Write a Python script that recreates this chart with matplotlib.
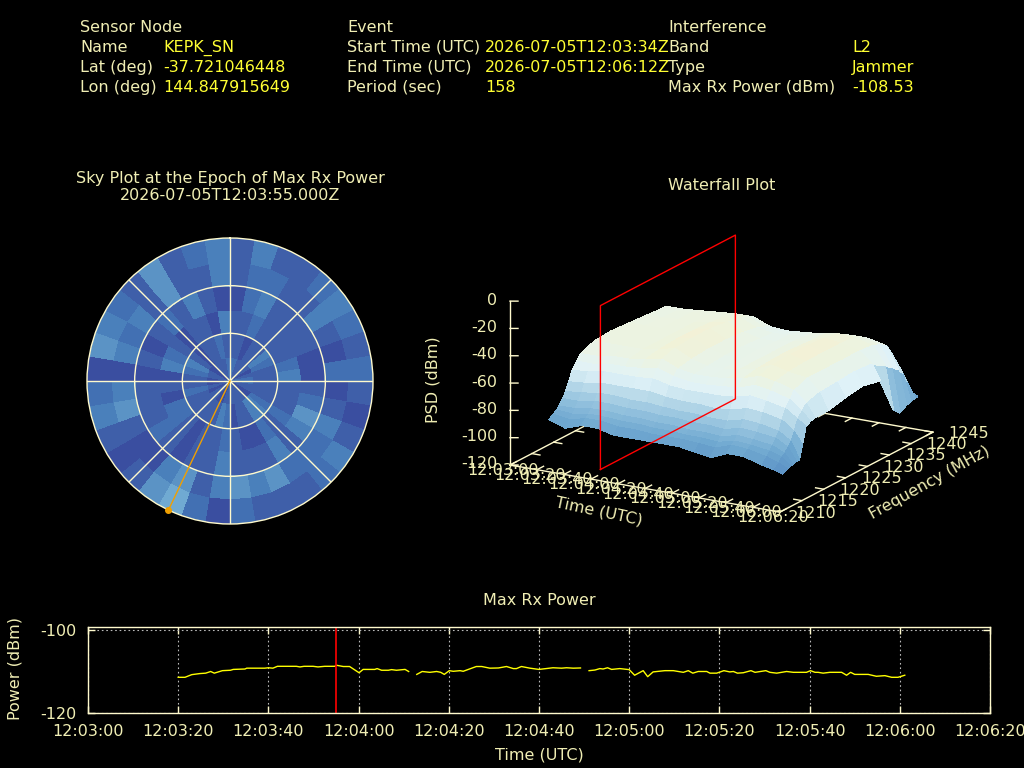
import numpy as np
import matplotlib
matplotlib.use("Agg")
import matplotlib.pyplot as plt
from matplotlib.colors import LinearSegmentedColormap, ListedColormap, Normalize
from mpl_toolkits.mplot3d import proj3d

# ---------- data ----------
power_t_1 = [20,21.5,23,24.8,26.1,27.2,28,29.8,31.6,32.2,34.8,35.2,39.2,40,41,42,44,46.2,47,47.9,49.9,51,52.5,54.7,55.1,56.6,58,60.1,61,63.6,64.1,65.1,66.6,67.3,68.4,70.3,71.1]
power_v_1 = [-111.4,-111.4,-110.76,-110.5,-110.4,-110.0,-110.4,-109.8,-109.7,-109.5,-109.4,-109.2,-109.2,-109.1,-109.2,-108.75,-108.75,-108.75,-108.9,-108.75,-108.75,-108.9,-108.75,-108.75,-108.5,-108.8,-108.8,-110.3,-109.5,-109.5,-109.3,-109.7,-109.7,-109.55,-109.7,-109.5,-110.0]
power_t_2 = [72.9,74.1,75.8,77.3,78.2,79,80.1,81,82.5,83.2,86.1,87.3,89.1,91,92.8,94.3,95,96.1,98,100,103.1,105,106.1,107.6,109.2]
power_v_2 = [-110.7,-110.0,-110.2,-110.0,-110.2,-110.7,-109.8,-109.95,-109.8,-109.95,-108.8,-108.8,-109.2,-109.15,-108.8,-109.3,-109.3,-108.8,-109.2,-109.5,-109.1,-109.2,-109.1,-109.2,-109.15]
power_t_3 = [111.1,112.4,113.5,114.2,115.2,116.1,117.9,120,121.2,123.1,124.1,125.3,127.9,129.8,132,133.1,134.1,135.3,137.2,137.9,139.4,141,142.3,143.1,144,145.3,147,147.9,150.3,151.2,152.7,154.9,156.4,159.3,160.2,161.2,161.9,163,164.5,167.1,168.2,169.1,170,173,174.8,176.7,178.2,179.6,181.1]
power_v_3 = [-109.8,-109.65,-109.3,-109.4,-109.1,-109.5,-109.3,-109.55,-110.9,-109.8,-111.25,-110.1,-109.8,-109.8,-110.2,-109.8,-110.4,-110.0,-110.0,-110.4,-110.4,-109.8,-110.1,-110.0,-110.4,-110.3,-109.8,-110.2,-109.8,-110.2,-110.4,-110.0,-110.2,-110.2,-109.8,-110.2,-110.2,-110.4,-110.2,-110.2,-110.9,-110.2,-110.7,-110.7,-111.15,-111.0,-111.4,-111.4,-110.9]
marker_t = 55
time_ticks = list(range(0, 201, 20))
time_labels = ["12:03:00","12:03:20","12:03:40","12:04:00","12:04:20","12:04:40","12:05:00","12:05:20","12:05:40","12:06:00","12:06:20"]
freq_ticks = [1210,1215,1220,1225,1230,1235,1240,1245]
psd_ticks = [0,-20,-40,-60,-80,-100,-120]

wf_t = [17,29,41,53,65,77,89,101,113,125,137,149,161,175,184,190]
wf_f = [1213.7,1214.7,1215.4,1216,1216.8,1217.5,1218.2,1219,1220,1221,1224,1228,1232,1236,1239,1240.5,1242,1243,1244,1244.6]
wf_z = [
 [-90,-94,-90,-90,-93,-93,-93,-93,-93,-95,-97,-92,-92,-96,-98,-100],
 [-88,-90,-87,-87,-89,-89,-90,-90,-90,-91,-92,-88,-89,-92,-95,-98],
 [-86,-87,-85,-85,-86,-86,-87,-87,-88,-88,-89,-86,-87,-89,-92,-97],
 [-84,-84,-82,-82,-83,-83,-84,-84,-85,-85,-86,-83,-84,-86,-90,-97],
 [-80,-80,-78,-78,-79,-79,-80,-80,-81,-81,-82,-79,-80,-82,-87,-96],
 [-76,-75,-73,-73,-74,-74,-75,-76,-76,-77,-77,-74,-75,-78,-84,-96],
 [-70,-69,-67,-67,-67,-67,-69,-70,-70,-71,-70,-67,-68,-71,-78,-86],
 [-63,-62,-60,-60,-60,-59,-62,-63,-63,-63,-62,-59,-61,-64,-70,-74],
 [-58,-58,-56,-56,-55,-53,-57,-59,-59,-58,-57,-53,-55,-59,-66,-72],
 [-54,-54,-52,-52,-50,-48,-53,-55,-55,-54,-52,-48,-50,-54,-62,-71],
 [-50,-50,-50,-50,-48,-45,-51,-54,-54,-52,-50,-45,-48,-50,-59,-71],
 [-49,-49,-50,-50,-47,-44,-50,-53,-54,-52,-49,-44,-47,-50,-58,-68],
 [-50,-50,-50,-50,-47,-44,-50,-53,-53,-52,-49,-44,-47,-50,-57,-66],
 [-51,-51,-50,-50,-48,-46,-51,-54,-54,-52,-50,-45,-47,-50,-58,-69],
 [-52,-51,-50,-50,-49,-48,-53,-55,-54,-53,-50,-47,-48,-51,-64,-95],
 [-52,-52,-51,-50,-49,-49,-55,-56,-55,-53,-51,-50,-50,-53,-68,-100],
 [-56,-55,-54,-53,-52,-52,-57,-58,-57,-56,-54,-53,-53,-56,-72,-97],
 [-62,-61,-60,-59,-58,-58,-62,-63,-62,-61,-60,-59,-59,-62,-76,-96],
 [-75,-74,-73,-72,-72,-72,-74,-75,-74,-74,-73,-72,-72,-75,-84,-95],
 [-90,-88,-87,-87,-87,-87,-88,-89,-89,-88,-87,-87,-87,-88,-92,-95],
]
plane_f = [1213.7, 1244.6]

sky_az_deg = list(range(0, 361, 10))
sky_zen_deg = [0, 15, 30, 45, 60, 75, 90]
sky_ring1 = [2,2,1,1,1,1,0,1,2,2,1,1,0,0,1,1,1,1,1,1,0,0,1,1,0,1,0,0,1,1,0,0,1,1,1,2]
sky_ring2 = [1,1,0,1,1,3,2,1,1,1,1,1,2,3,3,1,1,0,2,3,1,1,1,1,1,2,1,1,2,3,1,0,1,1,2,1]
sky_ring3 = [1,1,2,1,1,1,1,2,3,1,1,1,2,1,2,0,0,1,2,1,1,0,1,2,2,0,1,0,3,2,1,0,1,1,0,3]
sky_ring4 = [0,2,3,1,1,1,1,0,0,1,2,4,3,1,3,1,1,1,3,1,1,0,1,2,1,1,1,0,1,0,1,2,1,3,1,0]
sky_ring5 = [1,2,2,1,1,3,1,0,2,0,1,3,2,2,2,4,3,4,3,1,4,3,0,0,1,4,3,0,3,2,3,1,4,1,1,3]
sky_ring6 = [1,3,1,1,2,3,2,1,2,1,0,1,3,2,1,1,1,2,0,2,5,4,1,0,1,3,2,0,4,3,2,1,4,1,2,3]
sky_level_colors = ["#3a4ea0","#3f5fa9","#4270b3","#4a80bb","#5b93c5","#70aad2"]
max_az_deg = 205.5

header = [
 (80, 32, "Sensor Node", 0), (80, 52, "Name", 0), (163, 52, "KEPK_SN", 1),
 (80, 72, "Lat (deg)", 0), (163, 72, "-37.721046448", 1),
 (80, 92, "Lon (deg)", 0), (163, 92, "144.847915649", 1),
 (347, 32, "Event", 0), (347, 52, "Start Time (UTC)", 0), (485, 52, "2026-07-05T12:03:34Z", 1),
 (347, 72, "End Time (UTC)", 0), (485, 72, "2026-07-05T12:06:12Z", 1),
 (347, 92, "Period (sec)", 0), (485, 92, "158", 1),
 (668, 32, "Interference", 0), (668, 52, "Band", 0), (852, 52, "L2", 1),
 (668, 72, "Type", 0), (852, 72, "Jammer", 1),
 (668, 92, "Max Rx Power (dBm)", 0), (852, 92, "-108.53", 1),
]

# ---------- style ----------
FG = "#f0eeb4"
LINE = "#fffacd"
VAL = "#ffff33"
FS = 11.5
W, H = 1024, 768
plt.rcParams["font.family"] = "DejaVu Sans"
plt.rcParams["axes.unicode_minus"] = False
fig = plt.figure(figsize=(W/100, H/100), dpi=100, facecolor="black")

def ftext(x, y, s, color=FG, **kw):
    kw.setdefault("va", "baseline")
    kw.setdefault("fontsize", FS)
    fig.text(x/W, 1-y/H, s, color=color, **kw)

for x, y, s, kind in header:
    ftext(x, y, s, color=VAL if kind else FG, ha="left")
ftext(230, 183, "Sky Plot at the Epoch of Max Rx Power", ha="center")
ftext(230, 200, "2026-07-05T12:03:55.000Z", ha="center")
ftext(722, 190, "Waterfall Plot", ha="center")
ftext(539, 605, "Max Rx Power", ha="center")

# ---------- sky plot ----------
R = 143
ax_s = fig.add_axes([(230-R)/W, 1-(381+R)/H, 2*R/W, 2*R/H], projection="polar", facecolor="black")
ax_s.set_theta_zero_location("N")
ax_s.set_theta_direction(-1)
sky = np.array([sky_ring1, sky_ring2, sky_ring3, sky_ring4, sky_ring5, sky_ring6])
ax_s.pcolormesh(np.radians(sky_az_deg), sky_zen_deg, sky,
                cmap=ListedColormap(sky_level_colors), vmin=-0.5, vmax=5.5,
                shading="flat", antialiased=False, linewidth=0)
ax_s.set_ylim(0, 90)
ax_s.set_thetagrids(range(0, 360, 45), labels=[""]*8)
ax_s.set_rgrids([30, 60], labels=["", ""])
ax_s.grid(True, color=LINE, lw=1, ls="-")
ax_s.set_axisbelow(False)
ax_s.spines["polar"].set_color(LINE)
ax_s.spines["polar"].set_linewidth(1)
ax_s.tick_params(length=0)
az = np.radians(max_az_deg)
ax_s.plot([az, az], [0, 90], color="#f0a000", lw=1, zorder=5, clip_on=False)
ax_s.plot([az], [90], "o", color="#f0a000", ms=4, zorder=6, clip_on=False)

# ---------- waterfall ----------
psd_colors = [(-125,"#3548a0"),(-112,"#4170b2"),(-100,"#5a8fc4"),(-90,"#6fa8d0"),(-80,"#94c2de"),
              (-70,"#bcdcea"),(-62,"#e0f2f8"),(-55,"#e6f3ee"),(-48,"#eef3dd"),(-42,"#f8efcf")]
lo, hi = psd_colors[0][0], psd_colors[-1][0]
cmap = LinearSegmentedColormap.from_list("psd", [((v-lo)/(hi-lo), c) for v, c in psd_colors])

ax = fig.add_axes([0.35, 0.2, 0.6, 0.6], projection="3d", proj_type="ortho", computed_zorder=False)
ax.patch.set_alpha(0)
ax.view_init(elev=17.56, azim=-60)
ax.set_box_aspect((312, 306, 172), zoom=1)
ax.set_xlim(0, 200, view_margin=0)
ax.set_ylim(1210, 1245, view_margin=0)
ax.set_zlim(-120, 0, view_margin=0)
ax.set_axis_off()

def to_px(x, y, z):
    xs, ys, _ = proj3d.proj_transform(x, y, z, ax.get_proj())
    px = ax.transData.transform((xs, ys))
    return px[0], H - px[1]

# fit axes box so that the plot corners land on the reference's corners
target_o = (510.0, 465.0)
target_e = (780.0, 512.0)
for _ in range(3):
    fig.canvas.draw()
    p0 = to_px(0, 1210, -120)
    p1 = to_px(200, 1210, -120)
    scale = (target_e[0]-target_o[0]) / (p1[0]-p0[0])
    pos = ax.get_position()
    cx, cy = (pos.x0+pos.x1)/2*W, (pos.y0+pos.y1)/2*H
    s = pos.width*W*scale
    cx += target_o[0]-p0[0]
    cy += -(target_o[1]-p0[1])
    ax.set_position([(cx-s/2)/W, (cy-s/2)/H, s/W, s/H])
fig.canvas.draw()

T, F = np.meshgrid(wf_t, wf_f)
Z = np.array(wf_z, dtype=float)
surf = ax.plot_surface(T, F, Z, cmap=cmap, norm=Normalize(lo, hi), rstride=1, cstride=1,
                       shade=False, antialiased=False, linewidth=0.4, zorder=3)
surf.set_edgecolor("face")

def ln(xs, ys, zs, color=LINE, lw=1, zo=1):
    ax.plot(xs, ys, zs, color=color, lw=lw, zorder=zo, clip_on=False)

def label3d(x, y, z, s, dx, dy, ha="center"):
    # tick label placed through the 3D axes' projection, offset in pixels
    px, py = to_px(x, y, z)
    ftext(px + dx, py + dy, s, ha=ha, va="center")

# base frame
ln([0,200,200,0,0],[1210,1210,1245,1245,1210],[-120]*5)
ln([0,0],[1210,1210],[-120,0], zo=5)
for t in time_ticks:
    ln([t,t],[1210,1211.5],[-120,-120]); ln([t,t],[1245,1243.5],[-120,-120])
for f in freq_ticks:
    ln([200,194],[f,f],[-120,-120]); ln([0,6],[f,f],[-120,-120])
for z in psd_ticks:
    ln([0,4.45],[1210,1210.46],[z,z], zo=5)
    label3d(0, 1210, z, str(z), -13, -1, ha="right")
for t, lab in zip(time_ticks, time_labels):
    label3d(t, 1210, -120, lab, -7, 5.5)
for f in freq_ticks:
    label3d(200, f, -120, str(f), 36, 1)

# epoch plane
ln([marker_t]*5, [plane_f[0],plane_f[1],plane_f[1],plane_f[0],plane_f[0]], [-120,-120,0,0,-120],
   color="#ff0000", lw=1, zo=7)

ftext(433, 380, "PSD (dBm)", rotation=90, ha="center", va="center")
ftext(599, 511, "Time (UTC)", rotation=-12, ha="center", va="center", rotation_mode="anchor")
ftext(930, 483, "Frequency (MHz)", rotation=29, ha="center", va="center", rotation_mode="anchor")

# ---------- max power ----------
ax_p = fig.add_axes([88/W, 1-713/H, (990-88)/W, 86/H], facecolor="black")
ax_p.plot(power_t_1, power_v_1, color="#ffff00", lw=1)
ax_p.plot(power_t_2, power_v_2, color="#ffff00", lw=1)
ax_p.plot(power_t_3, power_v_3, color="#ffff00", lw=1)
ax_p.axvline(marker_t, color="#ff0000", lw=1.2)
ax_p.set_xlim(0, 200)
ax_p.set_ylim(-120, -99.28)
ax_p.set_xticks(time_ticks, time_labels)
ax_p.set_yticks([-120, -100])
ax_p.grid(True, color="#bbbbbb", lw=0.8, ls=(0, (1.5, 2.5)))
ax_p.set_axisbelow(True)
ax_p.tick_params(direction="in", top=True, right=True, length=5, width=1, color=LINE,
                 labelcolor=FG, labelsize=FS, pad=8)
for sp in ax_p.spines.values():
    sp.set_color(LINE)
    sp.set_linewidth(1)
ftext(539, 760, "Time (UTC)", ha="center")
ftext(15, 668, "Power (dBm)", rotation=90, ha="center", va="center")

fig.savefig("out.png", dpi=100, facecolor="black")
